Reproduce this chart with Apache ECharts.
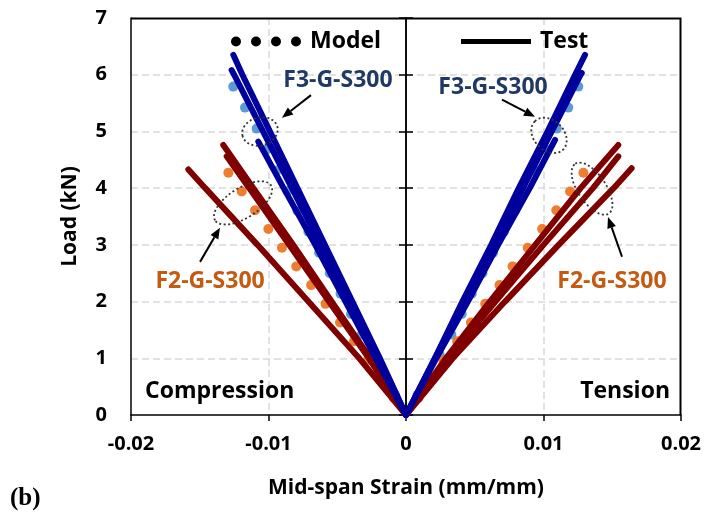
<!DOCTYPE html>
<html>
<head>
<meta charset="utf-8">
<script src="https://cdn.jsdelivr.net/npm/echarts@6/dist/echarts.min.js"></script>
<style>
  html, body { margin: 0; padding: 0; background: #fff; }
  #chart { width: 706px; height: 514px; }
</style>
</head>
<body>
<div id="chart"></div>
<script>
// ---- data: [strain (mm/mm), load (kN)] ----
// model predictions (dots)
var modelF3Tension = [[0.00083,0.35],[0.00163,0.70],[0.00245,1.06],[0.00330,1.42],[0.00405,1.78],[0.00478,2.14],[0.00556,2.50],[0.00633,2.86],[0.00712,3.23],[0.00793,3.60],[0.00865,3.95],[0.00940,4.31],[0.01018,4.68],[0.01096,5.05],[0.01180,5.42],[0.01253,5.79]];
var modelF3Compression = [[-0.00080,0.35],[-0.00160,0.70],[-0.00240,1.06],[-0.00322,1.42],[-0.00400,1.78],[-0.00476,2.14],[-0.00554,2.50],[-0.00632,2.86],[-0.00710,3.23],[-0.00790,3.60],[-0.00862,3.95],[-0.00938,4.31],[-0.01012,4.68],[-0.01086,5.05],[-0.01171,5.42],[-0.01256,5.79]];
var modelF2Tension = [[0.00090,0.30],[0.00185,0.64],[0.00272,0.97],[0.00372,1.30],[0.00472,1.63],[0.00576,1.96],[0.00680,2.29],[0.00775,2.62],[0.00885,2.95],[0.00990,3.28],[0.01093,3.61],[0.01193,3.94],[0.01290,4.27]];
var modelF2Compression = [[-0.00088,0.30],[-0.00182,0.64],[-0.00278,0.97],[-0.00378,1.30],[-0.00480,1.63],[-0.00585,1.96],[-0.00690,2.29],[-0.00798,2.62],[-0.00902,2.95],[-0.01001,3.28],[-0.01098,3.61],[-0.01195,3.94],[-0.01292,4.27]];

// test curves (lines), three specimens per group and side
var testF3T1 = [[0,0],[0.0021,1.0],[0.0041,2.0],[0.0062,3.0],[0.0082,4.0],[0.0103,5.0],[0.0123,6.0],[0.01302,6.35]];
var testF3T2 = [[0,0],[0.0021,1.0],[0.0042,2.0],[0.0064,3.0],[0.0085,4.0],[0.0106,5.0],[0.0127,6.0],[0.01278,6.03]];
var testF3T3 = [[0,0],[0.0022,1.0],[0.0045,2.0],[0.0067,3.0],[0.0090,4.0],[0.01084,4.85]];
var testF3C1 = [[0,0],[-0.0019,1.0],[-0.0039,2.0],[-0.0059,3.0],[-0.0079,4.0],[-0.0099,5.0],[-0.0119,6.0],[-0.01256,6.35]];
var testF3C2 = [[0,0],[-0.0020,1.0],[-0.0041,2.0],[-0.0062,3.0],[-0.0083,4.0],[-0.0104,5.0],[-0.0125,6.0],[-0.01268,6.08]];
var testF3C3 = [[0,0],[-0.0022,1.0],[-0.0044,2.0],[-0.0066,3.0],[-0.0089,4.0],[-0.01074,4.82]];
var testF2T1 = [[0,0],[0.0029,1.0],[0.0061,2.0],[0.0094,3.0],[0.0127,4.0],[0.01544,4.76]];
var testF2T2 = [[0,0],[0.0031,1.0],[0.0065,2.0],[0.0100,3.0],[0.0136,4.0],[0.01544,4.56]];
var testF2T3 = [[0,0],[0.0034,1.0],[0.0072,2.0],[0.0111,3.0],[0.0151,4.0],[0.01641,4.35]];
var testF2C1 = [[0,0],[-0.0026,1.0],[-0.0054,2.0],[-0.0082,3.0],[-0.0111,4.0],[-0.01329,4.76]];
var testF2C2 = [[0,0],[-0.0027,1.0],[-0.0056,2.0],[-0.0085,3.0],[-0.0114,4.0],[-0.01304,4.56]];
var testF2C3 = [[0,0],[-0.0034,1.0],[-0.0071,2.0],[-0.0108,3.0],[-0.0146,4.0],[-0.01583,4.33]];

var FONT = 'Open Sans';
var BLUE = '#00009c', RED = '#800000', LBLUE = '#5b9bd5', ORANGE = '#ed7d31';
var F3TXT = '#203864', F2TXT = '#c55a11';

var chart = echarts.init(document.getElementById('chart'));

function testLine(data, color) {
  return { type: 'line', data: data, showSymbol: false, silent: true, z: 3,
    lineStyle: { color: color, width: 6, cap: 'round' }, itemStyle: { color: color } };
}
function modelDots(data, color) {
  return { type: 'scatter', data: data, symbolSize: 10, silent: true, z: 2,
    itemStyle: { color: color, opacity: 1 } };
}

var dotsIcon = 'path://M0,5a5,5 0 1,0 10,0a5,5 0 1,0 -10,0Z M20,5a5,5 0 1,0 10,0a5,5 0 1,0 -10,0Z M40,5a5,5 0 1,0 10,0a5,5 0 1,0 -10,0Z M60,5a5,5 0 1,0 10,0a5,5 0 1,0 -10,0Z';
var barIcon = 'path://M0,0H70V5H0Z';

var legendText = { color: '#000', fontSize: 23, fontWeight: 'bold', fontFamily: FONT, padding: [0, 0, 0, 4] };
var gridSplit = { show: true, showMinLine: false, showMaxLine: false,
  lineStyle: { color: '#d9d9d9', type: [7, 4], width: 1.5 } };
var black = { color: '#000', width: 1.5 };

chart.setOption({
  animation: false,
  grid: { left: 131, right: 25, top: 18, bottom: 99 },
  legend: [
    { data: [{ name: 'Model', icon: dotsIcon }], left: 226, top: 25, itemWidth: 70, itemHeight: 10,
      selectedMode: false, textStyle: legendText },
    { data: [{ name: 'Test', icon: barIcon }], left: 456, top: 25, itemWidth: 70, itemHeight: 10,
      selectedMode: false, textStyle: legendText }
  ],
  xAxis: {
    type: 'value', min: -0.02, max: 0.02, interval: 0.01,
    axisLine: { onZero: false, lineStyle: black },
    axisTick: { show: true, length: 6, lineStyle: black },
    axisLabel: { color: '#000', fontSize: 20, fontWeight: 'bold', fontFamily: FONT, margin: 19,
      formatter: function (v) { return v === 0 ? '0' : String(+v.toFixed(2)); } },
    splitLine: gridSplit,
    name: 'Mid-span Strain (mm/mm)', nameLocation: 'middle', nameGap: 63,
    nameTextStyle: { color: '#000', fontSize: 21, fontWeight: 'bold', fontFamily: FONT }
  },
  yAxis: [
    { type: 'value', min: 0, max: 7, interval: 1, position: 'left',
      axisLine: { show: true, onZero: false, lineStyle: black },
      axisTick: { show: false },
      axisLabel: { color: '#000', fontSize: 20, fontWeight: 'bold', fontFamily: FONT, margin: 24 },
      splitLine: gridSplit,
      name: 'Load (kN)', nameLocation: 'middle', nameGap: 50,
      nameTextStyle: { color: '#000', fontSize: 21, fontWeight: 'bold', fontFamily: FONT } },
    // vertical axis through zero strain, ticks crossing it
    { type: 'value', min: 0, max: 7, interval: 1, position: 'left',
      axisLine: { show: true, onZero: true, onZeroAxisIndex: 0, lineStyle: black },
      axisTick: { show: true, inside: false, length: 7, lineStyle: black },
      axisLabel: { show: false }, splitLine: { show: false } },
    { type: 'value', min: 0, max: 7, interval: 1, position: 'left',
      axisLine: { show: true, onZero: true, onZeroAxisIndex: 0, lineStyle: black },
      axisTick: { show: true, inside: true, length: 7, lineStyle: black },
      axisLabel: { show: false }, splitLine: { show: false } }
  ],
  series: [
    { name: 'Model', type: 'scatter', data: [], itemStyle: { color: '#000', opacity: 1 } },
    { name: 'Test', type: 'line', data: [], itemStyle: { color: '#000' }, lineStyle: { color: '#000' } },
    modelDots(modelF3Tension, LBLUE), modelDots(modelF3Compression, LBLUE),
    modelDots(modelF2Tension, ORANGE), modelDots(modelF2Compression, ORANGE),
    testLine(testF2T1, RED), testLine(testF2T2, RED), testLine(testF2T3, RED),
    testLine(testF2C1, RED), testLine(testF2C2, RED), testLine(testF2C3, RED),
    testLine(testF3T1, BLUE), testLine(testF3T2, BLUE), testLine(testF3T3, BLUE),
    testLine(testF3C1, BLUE), testLine(testF3C2, BLUE), testLine(testF3C3, BLUE)
  ]
});

// ---- annotations, anchored in data coordinates ----
var labels = [
  { text: 'F3-G-S300', at: [-0.00495, 5.89], color: F3TXT, align: 'center' },
  { text: 'F3-G-S300', at: [0.00633, 5.78], color: F3TXT, align: 'center' },
  { text: 'F2-G-S300', at: [-0.01425, 2.36], color: F2TXT, align: 'center' },
  { text: 'F2-G-S300', at: [0.01498, 2.36], color: F2TXT, align: 'center' },
  { text: 'Compression', at: [-0.01898, 0.41], color: '#000', align: 'left' },
  { text: 'Tension', at: [0.0192, 0.41], color: '#000', align: 'right' }
];
var ellipses = [
  { at: [-0.01062, 5.0], rx: 18, ry: 14, rot: 15 },
  { at: [0.0104, 4.93], rx: 20, ry: 15, rot: -45 },
  { at: [-0.01185, 3.74], rx: 33, ry: 15, rot: 32 },
  { at: [0.01353, 3.99], rx: 30, ry: 14, rot: -56 }
];
var arrows = [
  { from: [-0.00691, 5.64], to: [-0.00902, 5.24] },
  { from: [0.00698, 5.56], to: [0.00938, 5.26] },
  { from: [-0.01498, 2.70], to: [-0.01353, 3.30] },
  { from: [0.01571, 2.79], to: [0.01469, 3.49] }
];

function px(p) { return chart.convertToPixel({ xAxisIndex: 0, yAxisIndex: 0 }, p); }

var graphics = [];
// plot-area frame: top and right edges
var tl = px([-0.02, 7]), tr = px([0.02, 7]), br = px([0.02, 0]);
graphics.push({ type: 'polyline', silent: true, z: 100,
  shape: { points: [[Math.round(tl[0]), Math.round(tl[1]) + 0.5], [Math.round(tr[0]) - 0.5, Math.round(tr[1]) + 0.5], [Math.round(br[0]) - 0.5, Math.round(br[1])]] },
  style: { fill: null, stroke: '#000000', lineWidth: 2 } });

labels.forEach(function (l) {
  var p = px(l.at);
  graphics.push({ type: 'text', x: p[0], y: p[1], silent: true, z: 10,
    style: { text: l.text, fill: l.color, font: 'bold 23px "' + FONT + '"', textAlign: l.align, textVerticalAlign: 'middle' } });
});
ellipses.forEach(function (e) {
  var p = px(e.at);
  graphics.push({ type: 'ellipse', x: p[0], y: p[1], rotation: e.rot * Math.PI / 180, silent: true, z: 10,
    shape: { cx: 0, cy: 0, rx: e.rx, ry: e.ry },
    style: { fill: 'none', stroke: '#333', lineWidth: 1.8, lineDash: [2, 2.5] } });
});
arrows.forEach(function (a) {
  var p0 = px(a.from), p1 = px(a.to);
  var ang = Math.atan2(p1[1] - p0[1], p1[0] - p0[0]);
  var L = 11, W = 4.5;
  var bx = p1[0] - L * Math.cos(ang), by = p1[1] - L * Math.sin(ang);
  graphics.push({ type: 'line', silent: true, z: 10,
    shape: { x1: p0[0], y1: p0[1], x2: bx, y2: by },
    style: { stroke: '#000', lineWidth: 2 } });
  graphics.push({ type: 'polygon', silent: true, z: 10,
    shape: { points: [[p1[0], p1[1]],
      [bx + W * Math.sin(ang), by - W * Math.cos(ang)],
      [bx - W * Math.sin(ang), by + W * Math.cos(ang)]] },
    style: { fill: '#000' } });
});
graphics.push({ type: 'text', left: 10, top: 486, silent: true,
  style: { text: '(b)', fill: '#000', font: 'bold 25px "Liberation Serif"' } });

chart.setOption({ graphic: graphics });
</script>
</body>
</html>
